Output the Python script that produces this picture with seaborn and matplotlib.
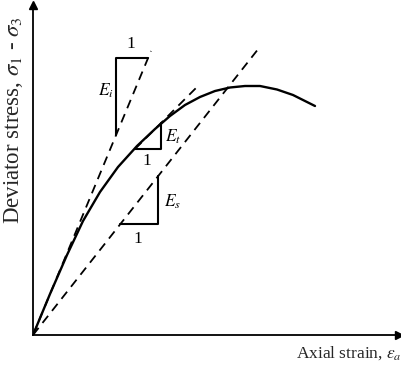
import matplotlib
matplotlib.use("Agg")
import matplotlib.pyplot as plt
import seaborn as sns
import pandas as pd

# ---- data (arbitrary units) ----
strain = [0, 1.7, 3.4, 5.0, 6.7, 8.5, 10.4, 12.2, 13.7, 15.2, 16.7, 18.2, 19.7, 21.2, 22.7, 24.4, 26.0, 28.2]
stress = [0, 4.1, 8.0, 11.4, 14.3, 16.8, 18.9, 20.6, 21.9, 23.0, 23.8, 24.4, 24.75, 24.9, 24.9, 24.55, 24.0, 22.9]

# tangent / secant lines (start, end)
init_x = [0, 11.8]
init_y = [0, 28.4]
tan_x = [10.2, 16.5]
tan_y = [18.6, 24.9]
sec_x = [0, 22.6]
sec_y = [0, 28.7]

# slope triangles: legs
tri_i_x = [8.3, 8.3, 11.5]
tri_i_y = [20.0, 27.7, 27.7]
tri_t_x = [10.2, 12.8, 12.8]
tri_t_y = [18.6, 18.6, 21.2]
tri_s_x = [8.7, 12.5, 12.5]
tri_s_y = [11.1, 11.1, 15.9]

labels = {
    "Ei": (8.1, 24.4, r"$E_i$"),
    "1i": (9.8, 29.1, "1"),
    "Et": (13.2, 19.8, r"$E_t$"),
    "1t": (11.4, 17.4, "1"),
    "Es": (13.1, 13.3, r"$E_s$"),
    "1s": (10.5, 9.6, "1"),
}

sns.set_theme(style="white")
plt.rcParams["font.family"] = ["Liberation Serif", "DejaVu Serif"]
plt.rcParams["mathtext.fontset"] = "stix"

W, H = 402, 367
fig = plt.figure(figsize=(W / 100, H / 100), dpi=100)
x0, y0, x1, y1 = 33, 335, 399, 5
ax = fig.add_axes([x0 / W, (H - y0) / H, (x1 - x0) / W, (y0 - y1) / H])
ax.set_xlim(0, 36.6)
ax.set_ylim(0, 33.0)

curve = pd.DataFrame({"strain": strain, "stress": stress})
sns.lineplot(data=curve, x="strain", y="stress", ax=ax, color="black", lw=1.7,
             sort=False, estimator=None)

dash = (0, (5, 3.5))
for xs, ys in [(init_x, init_y), (tan_x, tan_y), (sec_x, sec_y)]:
    sns.lineplot(x=xs, y=ys, ax=ax, color="black", lw=1.3, linestyle=dash,
                 sort=False, estimator=None)

for xs, ys in [(tri_i_x, tri_i_y), (tri_t_x, tri_t_y), (tri_s_x, tri_s_y)]:
    sns.lineplot(x=xs, y=ys, ax=ax, color="black", lw=1.5, sort=False, estimator=None)

for key, (tx, ty, s) in labels.items():
    ha = "right" if key == "Ei" else ("left" if key.startswith("E") else "center")
    ax.text(tx, ty, s, ha=ha, va="center", fontsize=12.5, color="black")

for sp in ["top", "right"]:
    ax.spines[sp].set_visible(False)
for sp in ["left", "bottom"]:
    ax.spines[sp].set_color("black")
    ax.spines[sp].set_linewidth(1.3)
ax.set_xticks([])
ax.set_yticks([])
ax.set_xlabel("")
ax.set_ylabel("")
ax.plot(1, 0, ">", color="black", ms=6, transform=ax.transAxes, clip_on=False)
ax.plot(0, 1, "^", color="black", ms=6, transform=ax.transAxes, clip_on=False)

fig.text(14 / W, 1 - 120 / H, r"Deviator stress, $\sigma_1$ - $\sigma_3$", rotation=90,
         ha="center", va="center", fontsize=16.5)
fig.text(402 / W, 1 - 353 / H, r"Axial strain, $\epsilon_a$", ha="right", va="center", fontsize=12.5)

fig.savefig("out.png", dpi=100, facecolor="white")
